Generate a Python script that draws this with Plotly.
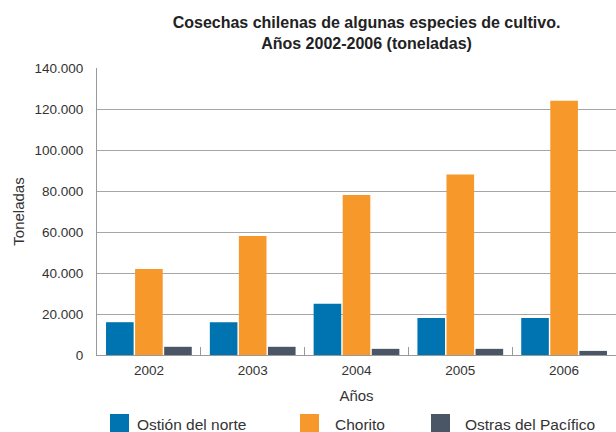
import plotly.graph_objects as go

# datos
anios = ["2002", "2003", "2004", "2005", "2006"]
series = ["Ostión del norte", "Chorito", "Ostras del Pacífico"]
ostion = [16000, 16000, 25000, 18000, 18000]
chorito = [42000, 58000, 78000, 88000, 124000]
ostras = [4000, 4000, 3000, 3000, 2000]
colores = ["#0074b0", "#f7982a", "#4a5566"]
valores = [ostion, chorito, ostras]

FONT = "Liberation Sans, Arial, sans-serif"

fig = go.Figure()
for nombre, vals, color in zip(series, valores, colores):
    fig.add_trace(go.Bar(x=anios, y=vals, name=nombre, marker_color=color,
                         marker_line_width=0, showlegend=False))

# leyenda dibujada a mano (cuadros grandes como en el original)
leg_x = [110, 300, 431]
txt_x = [135, 333, 463]
W, H, L, T, B = 616, 432, 97, 68, 355
pw, ph = W - L, B - T
for i, nombre in enumerate(series):
    x0 = (leg_x[i] - L) / pw
    x1 = (leg_x[i] + 19 - L) / pw
    fig.add_shape(type="rect", xref="paper", yref="paper",
                  x0=x0, x1=x1, y0=(B - 414) / ph, y1=(B - 433) / ph,
                  fillcolor=colores[i], line_width=0)
    fig.add_annotation(text=nombre, xref="paper", yref="paper",
                       x=(txt_x[i] - L) / pw, y=(B - 424) / ph,
                       xanchor="left", yanchor="middle", showarrow=False,
                       font=dict(size=15.5, color="#333333", family=FONT))

fig.update_layout(
    width=W, height=H,
    margin=dict(l=L, r=0, t=T, b=H - B, autoexpand=False),
    paper_bgcolor="white", plot_bgcolor="white",
    barmode="group", bargap=0.16, bargroupgap=0.05,
    separators=",.",
    font=dict(family=FONT, color="#333333", size=13.5),
    title=dict(text="<b>Cosechas chilenas de algunas especies de cultivo.<br>Años 2002-2006 (toneladas)</b>",
               x=0.595, xanchor="center", xref="container",
               y=1 - 28 / H, yanchor="middle", yref="container",
               font=dict(size=16, color="#222222", family=FONT)),
)
fig.update_xaxes(showline=True, linecolor="#999999", linewidth=1,
                 ticks="inside", ticklen=8, tickcolor="#999999",
                 tickson="boundaries", showgrid=False, automargin=False,
                 ticklabelstandoff=3,
                 tickfont=dict(size=13.5, color="#333333"),
                 title=dict(text="Años", standoff=13, font=dict(size=15, color="#333333")))
fig.update_yaxes(range=[0, 140000], dtick=20000, tickformat=",",
                 showline=True, linecolor="#999999", linewidth=1,
                 showgrid=True, gridcolor="#a6a6a6", gridwidth=1,
                 zeroline=False, ticks="", ticklabelstandoff=10, automargin=False,
                 tickfont=dict(size=13.5, color="#333333"),
                 title=dict(text="Toneladas", standoff=6, font=dict(size=15, color="#333333")))

# quitar el margen del body para que la figura empiece en (0,0)
fig.write_html("out.html", config={"displayModeBar": False},
               post_script="document.body.style.margin='0';")
